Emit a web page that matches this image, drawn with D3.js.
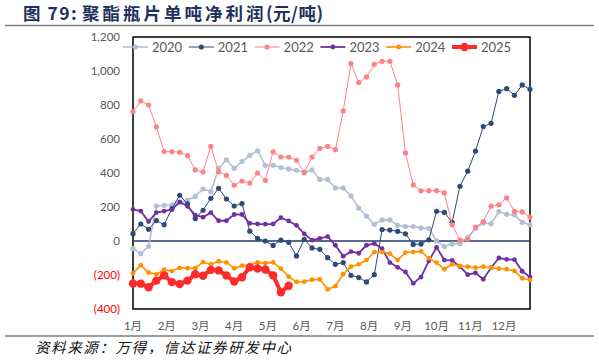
<!DOCTYPE html>
<html>
<head>
<meta charset="utf-8">
<script src="https://cdn.jsdelivr.net/npm/d3@7"></script>
<style>
  html, body { margin: 0; padding: 0; background: #fff; }
  svg { display: block; }
</style>
</head>
<body>
<svg id="chart" width="599" height="361"></svg>
<script>
// weekly net profit per ton of PET bottle chips, one point per week
const months = ['1月', '2月', '3月', '4月', '5月', '6月', '7月', '8月', '9月', '10月', '11月', '12月'];
const yTicks = [-400, -200, 0, 200, 400, 600, 800, 1000, 1200];
const years = ['2020', '2021', '2022', '2023', '2024', '2025'];

const s2020 = [-45, -74, -31, 206, 210, 212, 226, 240, 262, 306, 290, 427, 478, 427, 467, 504, 531, 445, 445, 432, 424, 416, 406, 418, 362, 362, 312, 312, 265, 194, 147, 98, 124, 124, 92, 85, 85, 77, 74, 0, -33, -18, -14, 20, 75, 106, 102, 173, 157, 153, 110, 96];
const s2021 = [43, 100, 69, 120, 96, 190, 269, 218, 133, 181, 251, 310, 247, 206, 220, 58, 15, 0, -26, 5, -8, -88, 10, -41, -49, -98, -137, -127, -202, -215, -241, -198, 67, 64, 57, 42, -20, -18, 7, 175, 168, 110, 322, 411, 529, 673, 692, 880, 896, 857, 918, 892];
const s2022 = [761, 824, 800, 671, 526, 526, 522, 502, 418, 406, 557, 408, 386, 328, 353, 341, 400, 357, 524, 494, 494, 475, 402, 494, 545, 557, 537, 765, 1043, 932, 965, 1039, 1057, 1057, 918, 518, 330, 295, 296, 296, 283, 95, 5, 10, 82, 114, 205, 213, 254, 174, 171, 141];
const s2023 = [186, 176, 114, 167, 176, 185, 230, 204, 152, 140, 167, 119, 119, 156, 156, 104, 100, 99, 100, 137, 118, 92, 42, 5, 15, 26, -25, -90, -62, -72, -25, -15, -45, -127, -155, -182, -249, -212, -118, -37, -112, -114, -151, -198, -188, -225, -157, -100, -108, -110, -178, -212];
const s2024 = [-190, -142, -186, -196, -169, -177, -158, -160, -160, -124, -137, -119, -126, -161, -145, -141, -126, -130, -126, -162, -210, -241, -239, -228, -226, -284, -266, -195, -151, -137, -112, -65, -65, -74, -112, -68, -65, -61, -102, -127, -166, -137, -147, -151, -157, -151, -157, -163, -166, -176, -219, -229];
const s2025 = [-250, -251, -272, -233, -202, -242, -253, -233, -196, -204, -170, -173, -203, -238, -213, -155, -162, -168, -202, -302, -263];

const seriesData = [s2020, s2021, s2022, s2023, s2024, s2025];
const styles = [
  { color: '#b3bfd2', width: 1.6, r: 2.6 },
  { color: '#2e4a78', width: 1, r: 2.6 },
  { color: '#ff8286', width: 1, r: 2.6 },
  { color: '#7030a0', width: 1.8, r: 2.4 },
  { color: '#ff9000', width: 1.6, r: 2.4 },
  { color: '#ff2a2a', width: 4, r: 4.2 }
];

const svg = d3.select('#chart');
const plot = { left: 133, right: 530, top: 37, bottom: 309 };

const x = d3.scaleLinear().domain([0, 51]).range([plot.left, plot.right]);
const y = d3.scaleLinear().domain([-400, 1200]).range([plot.bottom, plot.top]);

// title and rules
const title = svg.append('text')
  .attr('y', 20)
  .attr('font-family', '"Noto Sans CJK SC", sans-serif')
  .attr('font-weight', 'bold')
  .attr('font-size', 17.5)
  .attr('fill', '#1d3260');
title.append('tspan').attr('x', 23).attr('letter-spacing', 1.5).text('图 79:');
title.append('tspan').attr('x', 82).attr('letter-spacing', 3).text('聚酯瓶片单吨净利润');
title.append('tspan').attr('x', 266).attr('letter-spacing', 0.5).text('(元/吨)');

svg.append('line')
  .attr('x1', 5).attr('x2', 594).attr('y1', 25.5).attr('y2', 25.5)
  .attr('stroke', '#7f7f7f').attr('stroke-width', 1.5);
svg.append('line')
  .attr('x1', 5).attr('x2', 594).attr('y1', 336).attr('y2', 336)
  .attr('stroke', '#7f7f7f').attr('stroke-width', 1.5);

svg.append('text')
  .attr('x', 35).attr('y', 353)
  .attr('font-family', '"Noto Sans CJK SC", sans-serif')
  .attr('font-style', 'italic')
  .attr('font-size', 14.5)
  .attr('letter-spacing', 1.6)
  .attr('fill', '#111')
  .text('资料来源：万得，信达证券研发中心');

// y axis labels
const fmt = d3.format(',');
svg.append('g').selectAll('text')
  .data(yTicks)
  .enter()
  .append('text')
  .attr('x', 120)
  .attr('y', d => y(d) + 4)
  .attr('text-anchor', 'end')
  .attr('font-family', 'Lato, "Open Sans", sans-serif')
  .attr('font-size', 11.5)
  .attr('fill', d => d < 0 ? '#ff0000' : '#595959')
  .text(d => d < 0 ? `(${fmt(-d)})` : fmt(d));

// month labels, spread evenly over 52 weeks
svg.append('g').selectAll('text')
  .data(months)
  .enter()
  .append('text')
  .attr('x', (d, i) => x(i * 52 / 12))
  .attr('y', 330)
  .attr('text-anchor', 'middle')
  .attr('font-family', 'Lato, "Noto Sans CJK SC", sans-serif')
  .attr('font-size', 11.5)
  .attr('fill', '#595959')
  .text(d => d);

// plot border and zero line
svg.append('rect')
  .attr('x', plot.left).attr('y', plot.top)
  .attr('width', plot.right - plot.left).attr('height', plot.bottom - plot.top)
  .attr('fill', 'none').attr('stroke', '#000').attr('stroke-width', 1.5);

svg.append('line')
  .attr('x1', plot.left).attr('x2', plot.right)
  .attr('y1', y(0)).attr('y2', y(0))
  .attr('stroke', '#1f3864').attr('stroke-width', 1.5);

// series
const line = d3.line().x((d, i) => x(i)).y(d => y(d));
const seriesLayer = svg.append('g');
seriesData.forEach((vals, k) => {
  const st = styles[k];
  const g = seriesLayer.append('g');
  g.append('path')
    .datum(vals)
    .attr('fill', 'none')
    .attr('stroke', st.color)
    .attr('stroke-width', st.width)
    .attr('stroke-linejoin', 'round')
    .attr('d', line);
  g.selectAll('circle')
    .data(vals)
    .enter()
    .append('circle')
    .attr('cx', (d, i) => x(i))
    .attr('cy', d => y(d))
    .attr('r', st.r)
    .attr('fill', st.color);
});

// legend
const legend = svg.append('g');
years.forEach((yr, k) => {
  const st = styles[k];
  const lx = 123 + k * 65.8, ly = 47;
  legend.append('line')
    .attr('x1', lx).attr('x2', lx + 25).attr('y1', ly).attr('y2', ly)
    .attr('stroke', st.color).attr('stroke-width', st.width);
  legend.append('circle')
    .attr('cx', lx + 12.5).attr('cy', ly).attr('r', st.r)
    .attr('fill', st.color);
  legend.append('text')
    .attr('x', lx + 29).attr('y', ly + 4.5)
    .attr('font-family', 'Lato, "Open Sans", sans-serif')
    .attr('font-size', 13)
    .attr('fill', '#595959')
    .text(yr);
});
</script>
</body>
</html>
